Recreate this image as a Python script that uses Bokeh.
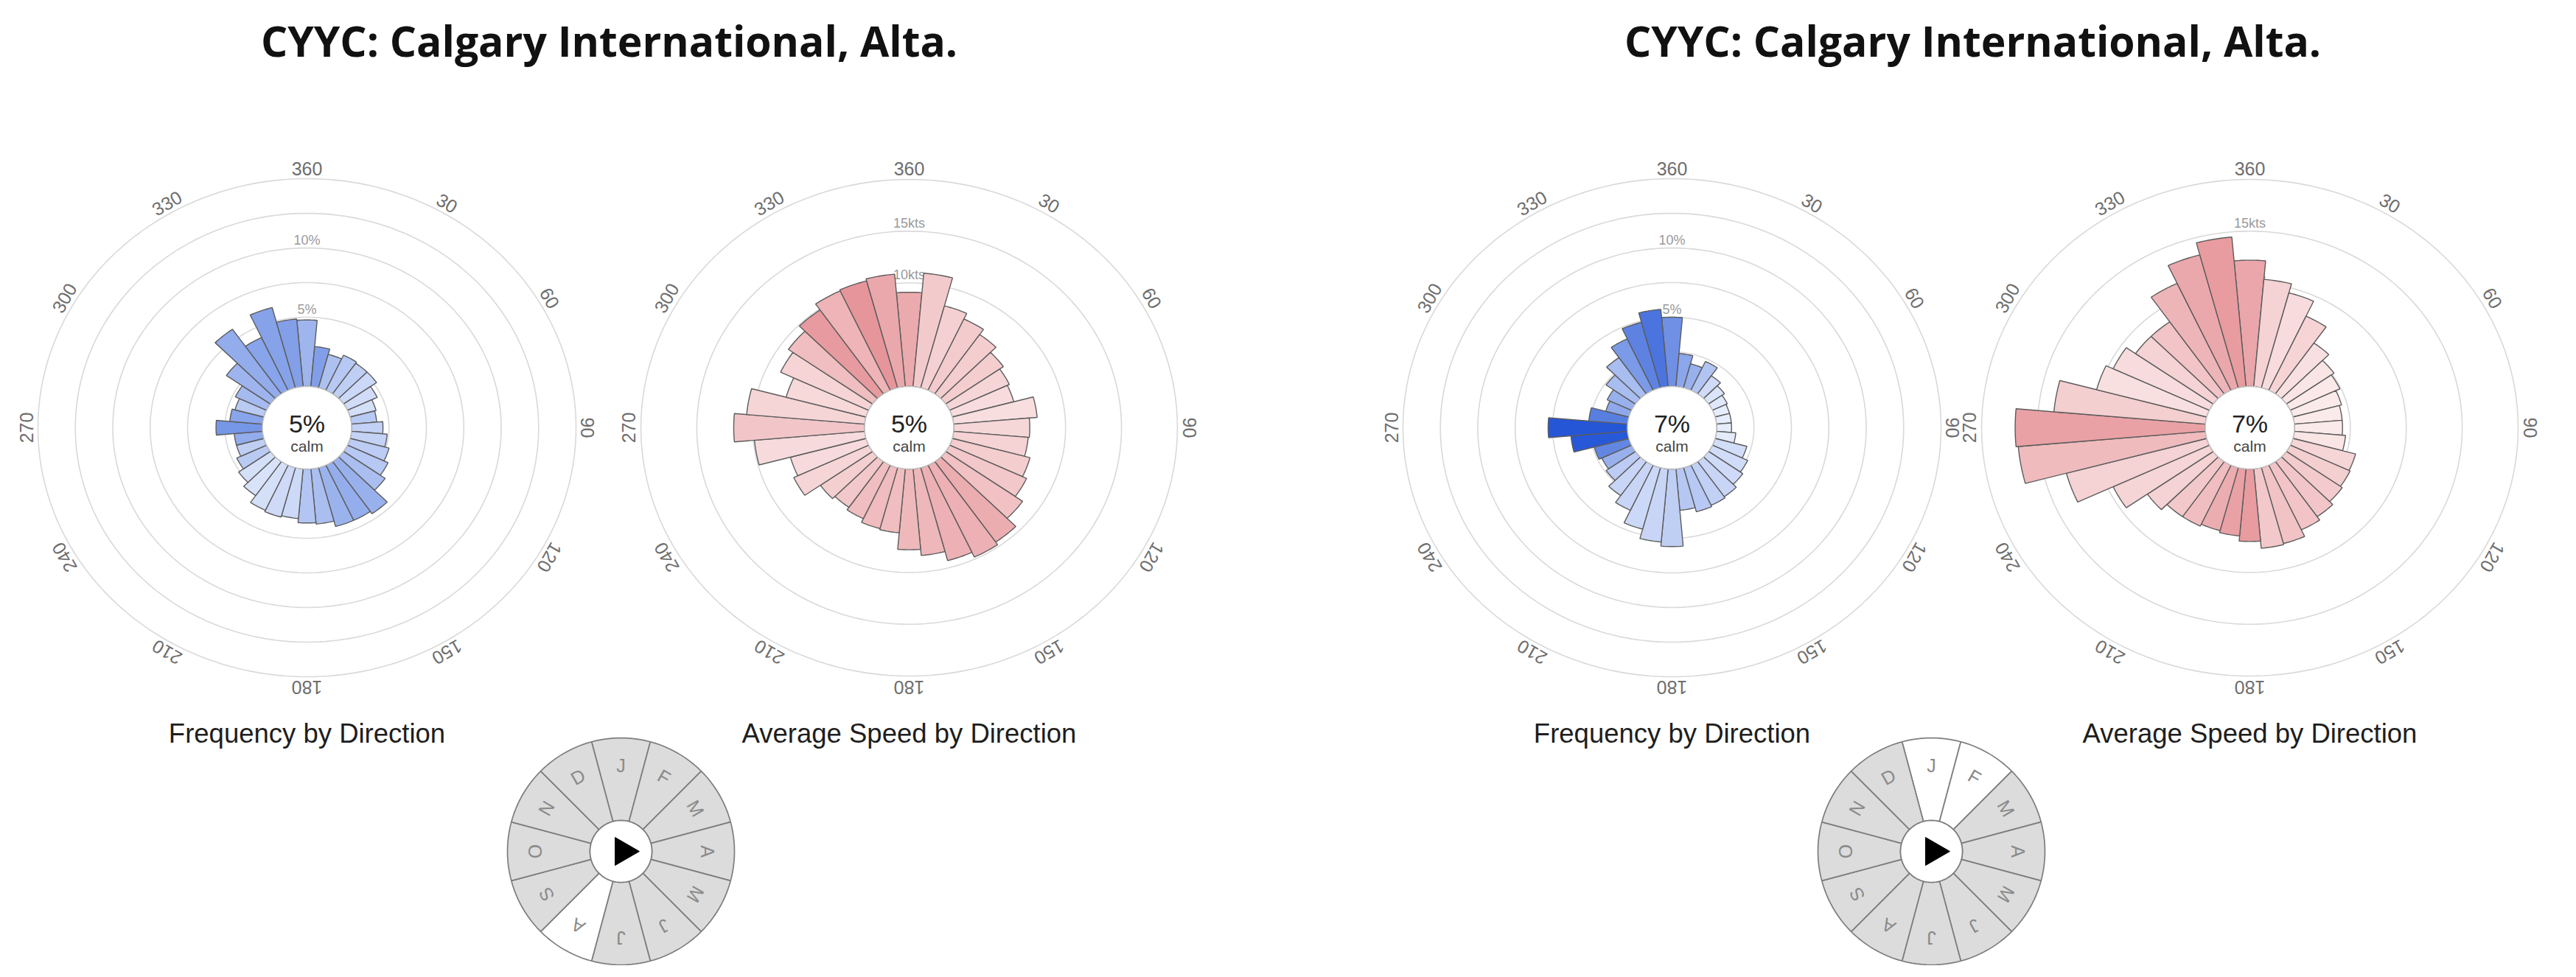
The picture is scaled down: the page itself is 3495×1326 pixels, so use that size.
import numpy as np
from bokeh.plotting import figure
from bokeh.models import Range1d, ColumnDataSource
from bokeh.transform import linear_cmap
from bokeh.core.properties import value
from bokeh.embed import file_html
from bokeh.resources import INLINE

# ---------------- data ----------------
station_title = "CYYC: Calgary International, Alta."
directions = [0, 10, 20, 30, 40, 50, 60, 70, 80, 90, 100, 110,
              120, 130, 140, 150, 160, 170, 180, 190, 200, 210, 220, 230,
              240, 250, 260, 270, 280, 290, 300, 310, 320, 330, 340, 350]

# frequency by direction (%) - left (August) and right (Jan-Feb)
freq_left = [4.8, 2.9, 2.5, 2.8, 2.7, 2.7, 2.2, 1.8, 1.7, 2.1, 2.4, 2.7,
             3.0, 3.4, 4.6, 4.4, 4.4, 4.0, 3.9, 3.6, 3.7, 3.6, 3.0, 2.6,
             2.2, 1.9, 1.9, 3.1, 2.2, 2.0, 2.3, 3.6, 5.7, 4.2, 6.0, 4.9]
freq_right = [5.0, 2.4, 1.8, 2.3, 1.6, 1.3, 1.1, 1.0, 1.0, 1.0, 1.3, 2.2,
              2.6, 2.8, 3.1, 3.2, 3.3, 3.0, 5.6, 5.3, 4.6, 3.6, 3.0, 2.4,
              2.2, 2.4, 3.8, 5.3, 2.6, 1.6, 1.8, 2.4, 3.2, 4.1, 4.9, 5.6]

# average speed by direction (kts)
speed_left = [9.1, 11.0, 8.2, 7.6, 7.0, 6.3, 5.9, 5.7, 7.5, 6.8, 6.7, 7.2,
              7.6, 8.4, 9.5, 9.8, 9.3, 8.4, 7.8, 6.2, 6.1, 5.7, 5.4, 5.7,
              7.4, 7.0, 9.9, 11.7, 10.6, 7.4, 8.7, 9.2, 9.9, 10.6, 10.7, 10.9]
speed_right = [12.2, 10.4, 9.5, 7.9, 6.0, 5.2, 4.9, 4.5, 4.3, 4.3, 4.6, 5.8,
               5.9, 6.1, 6.5, 6.9, 7.6, 7.7, 7.0, 6.5, 6.3, 6.5, 6.5, 7.2,
               9.5, 13.0, 16.8, 17.0, 13.6, 10.2, 9.5, 8.5, 8.5, 11.4, 13.3, 14.5]

calm_pct = [5, 7]

dir_tick_angles = [0, 30, 60, 90, 120, 150, 180, 210, 240, 270, 300, 330]
dir_tick_labels = ["360", "30", "60", "90", "120", "150", "180", "210", "240", "270", "300", "330"]

freq_rings = [2.5, 5, 7.5, 10, 12.5, 15]
freq_ring_label_vals = [5, 10]
freq_ring_label_text = ["5%", "10%"]
speed_rings = [5, 10, 15, 20]
speed_ring_label_vals = [10, 15]
speed_ring_label_text = ["10kts", "15kts"]

months = ["J", "F", "M", "A", "M", "J", "J", "A", "S", "O", "N", "D"]
selected_left = [7]        # August
selected_right = [0, 1]    # January, February

# ---------------- style / layout ----------------
W, H = 3479, 1310
STRETCH = 1.08
R0_PX = 56
LABEL_PX = 352
FREQ_PPU = 18.8     # px per %
SPEED_PPU = 14.05   # px per kt
CY = 588
SANS = value("Liberation Sans")


def lerp_palette(c0, c1, n=256):
    a = np.array([int(c0[i:i + 2], 16) for i in (1, 3, 5)], float)
    b = np.array([int(c1[i:i + 2], 16) for i in (1, 3, 5)], float)
    out = []
    for t in np.linspace(0, 1, n):
        c = a + (b - a) * t
        out.append("#%02x%02x%02x" % tuple(int(round(v)) for v in c))
    return out


BLUES = lerp_palette("#e6edfc", "#2456d6")
REDS = lerp_palette("#fdf2f2", "#e48d92")

p = figure(width=W, height=H, x_range=Range1d(8, 8 + W), y_range=Range1d(8 + H, 8),
           output_backend="svg", toolbar_location=None, min_border=0,
           x_axis_location=None, y_axis_location=None, title=None)
p.grid.visible = False
p.outline_line_color = None
p.background_fill_color = "white"
p.border_fill_color = "white"


def add_ranges(name, cx, cy, ppu, stretch):
    sx = ppu * stretch
    sy = ppu
    p.extra_x_ranges[name] = Range1d((8 - cx) / sx, (8 + W - cx) / sx)
    p.extra_y_ranges[name] = Range1d((cy - 8 - H) / sy, (cy - 8) / sy)
    return dict(x_range_name=name, y_range_name=name)


def rose(name, cx, cy, ppu, values, cvalues, palette, lo, hi,
         rings, ring_label_vals, ring_label_text, calm, subtitle):
    kw = add_ranges(name, cx, cy, ppu, STRETCH)
    r0 = R0_PX / ppu
    t = np.linspace(0, 2 * np.pi, 241)
    p.multi_line(xs=[list((r0 + v) * np.sin(t)) for v in rings],
                 ys=[list((r0 + v) * np.cos(t)) for v in rings],
                 line_color="#d9d9d9", line_width=1.6, **kw)
    p.text(x=[0] * len(ring_label_vals), y=[r0 + v + 1.0 / ppu for v in ring_label_vals],
           text=ring_label_text, text_align="center", text_baseline="bottom",
           text_font_size="18px", text_color="#9a9a9a", text_font=SANS, **kw)
    half = np.radians(5)
    xs, ys = [], []
    for d, v in zip(directions, values):
        a = np.radians(d)
        ang = np.linspace(a - half, a + half, 9)
        ro = r0 + v
        xs.append(list(ro * np.sin(ang)) + list(r0 * np.sin(ang[::-1])))
        ys.append(list(ro * np.cos(ang)) + list(r0 * np.cos(ang[::-1])))
    src = ColumnDataSource(dict(xs=xs, ys=ys, c=cvalues))
    p.patches("xs", "ys", source=src, fill_color=linear_cmap("c", palette, lo, hi),
              line_color="#5c5c5c", line_width=1.4, **kw)
    p.patch(list(r0 * np.sin(t)), list(r0 * np.cos(t)), fill_color="white",
            line_color="#c4c4c4", line_width=1.5, **kw)
    rl = LABEL_PX / ppu
    angs = np.radians(dir_tick_angles)
    p.text(x=list(rl * np.sin(angs)), y=list(rl * np.cos(angs)), text=dir_tick_labels,
           angle=list(-angs), text_align="center", text_baseline="middle",
           text_font_size="25px", text_color="#6e6e6e", text_font=SANS, **kw)
    # centre text (page pixel coordinates)
    p.text(x=[cx], y=[cy - 6], text=["%d%%" % calm], text_align="center", text_baseline="middle",
           text_font_size="34px", text_color="#222222", text_font=SANS)
    p.text(x=[cx], y=[cy + 25], text=["calm"], text_align="center", text_baseline="middle",
           text_font_size="21px", text_color="#444444", text_font=SANS)
    p.text(x=[cx], y=[1003], text=[subtitle], text_align="center", text_baseline="middle",
           text_font_size="36.5px", text_color="#1e1e1e", text_font=SANS)


def wheel(name, cx, cy, selected):
    kw = add_ranges(name, cx, cy, 1.0, 1.0)
    r_out, r_in, r_lab = 154, 42, 117
    xs, ys, fills = [], [], []
    for i, m in enumerate(months):
        a = np.radians(i * 30)
        ang = np.linspace(a - np.radians(15), a + np.radians(15), 13)
        xs.append(list(r_out * np.sin(ang)) + list(r_in * np.sin(ang[::-1])))
        ys.append(list(r_out * np.cos(ang)) + list(r_in * np.cos(ang[::-1])))
        fills.append("white" if i in selected else "#dcdcdc")
    p.patches(xs, ys, fill_color=fills, line_color="#7d7d7d", line_width=1.7, **kw)
    angs = np.radians(np.arange(len(months)) * 30)
    p.text(x=list(r_lab * np.sin(angs)), y=list(r_lab * np.cos(angs)), text=months,
           angle=list(-angs), text_align="center", text_baseline="middle",
           text_font_size="25px", text_color="#8a8a8a", text_font=SANS, **kw)
    t = np.linspace(0, 2 * np.pi, 121)
    p.patch(list(r_in * np.sin(t)), list(r_in * np.cos(t)), fill_color="white",
            line_color="#7d7d7d", line_width=1.7, **kw)
    p.scatter(x=[3], y=[0], marker="triangle", size=38, angle=-np.pi / 2,
              fill_color="black", line_color="black", **kw)


panels = [
    dict(title_x=834, fx=424, sx=1241, wx=850, freq=freq_left, speed=speed_left,
         calm=calm_pct[0], sel=selected_left, tag="L"),
    dict(title_x=2684, fx=2276, sx=3060, wx=2628, freq=freq_right, speed=speed_right,
         calm=calm_pct[1], sel=selected_right, tag="R"),
]

for pn in panels:
    p.text(x=[pn["title_x"]], y=[62], text=[station_title], text_align="center",
           text_baseline="middle", text_font_size="57px", text_font_style="bold",
           text_color="#111111", text_font=value("Open Sans"))
    rose("f" + pn["tag"], pn["fx"], CY, FREQ_PPU, pn["freq"], pn["speed"], BLUES, 4.5, 17.0,
         freq_rings, freq_ring_label_vals, freq_ring_label_text, pn["calm"],
         "Frequency by Direction")
    rose("s" + pn["tag"], pn["sx"], CY, SPEED_PPU, pn["speed"], pn["freq"], REDS, 0.5, 6.5,
         speed_rings, speed_ring_label_vals, speed_ring_label_text, pn["calm"],
         "Average Speed by Direction")
    wheel("w" + pn["tag"], pn["wx"], 1163, pn["sel"])

open("out.html", "w").write(file_html(p, INLINE))
